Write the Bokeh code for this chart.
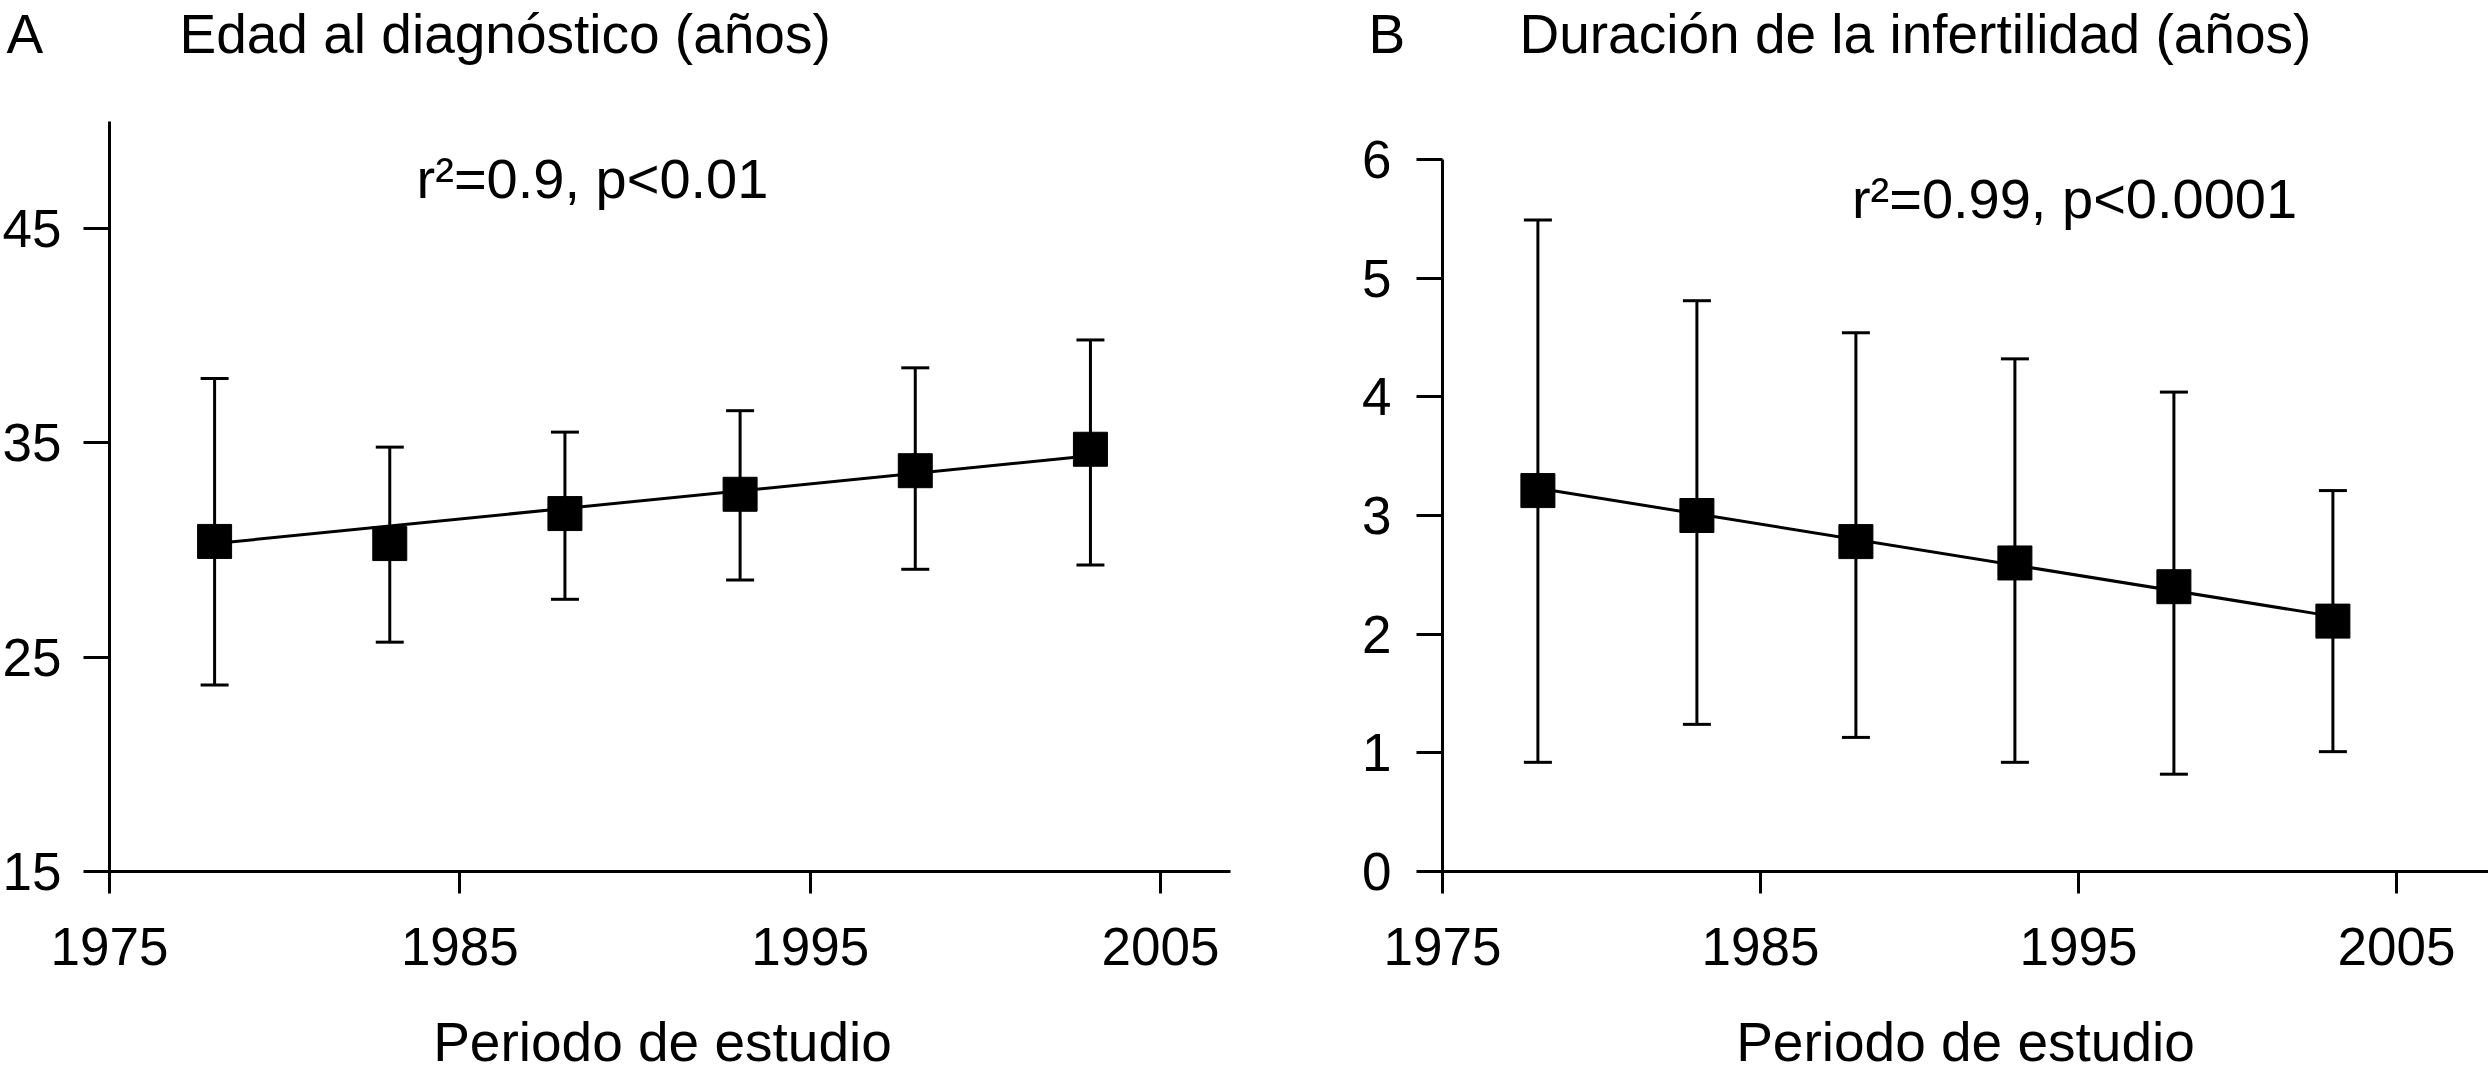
from bokeh.plotting import figure
from bokeh.layouts import row
from bokeh.models import Label, FixedTicker, Range1d, LinearAxis
from bokeh.embed import file_html
from bokeh.resources import INLINE

FONT = "Liberation Sans"

# ---------------- data ----------------
years = [1978, 1983, 1988, 1993, 1998, 2003]

edad_mean = [30.4, 30.3, 31.7, 32.6, 33.7, 34.7]
edad_high = [38.0, 34.8, 35.5, 36.5, 38.5, 39.8]
edad_low = [23.7, 25.7, 27.7, 28.6, 29.1, 29.3]

dur_mean = [3.21, 3.00, 2.78, 2.60, 2.40, 2.11]
dur_high = [5.49, 4.81, 4.54, 4.32, 4.04, 3.21]
dur_low = [0.92, 1.24, 1.13, 0.92, 0.82, 1.01]

fit_years = [1978, 2003]
edad_fit = [30.3, 34.4]
dur_fit = [3.23, 2.15]

x_ticks = [1975, 1985, 1995, 2005]
edad_ticks = [15, 25, 35, 45]
dur_ticks = [0, 1, 2, 3, 4, 5, 6]

# ---------------- layout (page pixels) ----------------
W, H = 2488, 1077
WA = 1290          # panel A figure spans page x 0..WA, panel B spans WA..W
TEXT_SHIFT = 20    # rendered text sits this much below the anchor


class Geo:
    """Linear map between page pixels and data values for one panel."""
    def __init__(self, px_a, xa, px_b, xb, py_a, ya, py_b, yb):
        self.kx = (xb - xa) / (px_b - px_a)
        self.px_a, self.xa = px_a, xa
        self.ky = (yb - ya) / (py_b - py_a)
        self.py_a, self.ya = py_a, ya

    def x(self, px):
        return self.xa + (px - self.px_a) * self.kx

    def y(self, py):
        return self.ya + (py - self.py_a) * self.ky


def add_text(p, g, text, px, py, align="left", size="55px"):
    p.add_layout(Label(x=g.x(px), y=g.y(py - TEXT_SHIFT), text=text,
                       text_font=FONT, text_font_size=size, text_color="black",
                       text_align=align, text_baseline="alphabetic"))


def make_panel(g, fig_left, fig_right, x_loc, y_loc, x_bounds, y_bounds, y_ticks, y_standoff):
    p = figure(width=fig_right - fig_left, height=H,
               x_range=Range1d(g.x(fig_left), g.x(fig_right)),
               y_range=Range1d(g.y(H), g.y(0)),
               output_backend="svg", toolbar_location=None,
               x_axis_location=None, y_axis_location=None, min_border=0,
               min_border_left=0, min_border_right=0, min_border_top=0, min_border_bottom=0)
    p.outline_line_color = None
    p.grid.visible = False
    p.background_fill_color = "white"
    p.border_fill_color = "white"

    xax = LinearAxis(fixed_location=x_loc, ticker=FixedTicker(ticks=x_ticks), bounds=x_bounds)
    yax = LinearAxis(fixed_location=y_loc, ticker=FixedTicker(ticks=y_ticks), bounds=y_bounds)
    for ax in (xax, yax):
        ax.axis_line_width = 3
        ax.axis_line_color = "black"
        ax.major_tick_line_width = 3
        ax.major_tick_line_color = "black"
        ax.major_tick_in = 0
        ax.minor_tick_line_color = None
        ax.major_label_text_font = FONT
        ax.major_label_text_font_size = "53px"
        ax.major_label_text_color = "black"
    xax.major_tick_out = 22
    xax.major_label_standoff = 34
    yax.major_tick_out = 26
    yax.major_label_standoff = y_standoff
    p.add_layout(xax, "below")
    p.add_layout(yax, "left")
    return p


def draw_series(p, means, lows, highs, fit):
    p.line(fit_years, fit, line_width=3, line_color="black")
    p.segment(years, lows, years, highs, line_width=3, line_color="black")
    p.scatter(years, highs, marker="dash", size=28, line_width=3, line_color="black")
    p.scatter(years, lows, marker="dash", size=28, line_width=3, line_color="black")
    p.scatter(years, means, marker="square", size=34, fill_color="black", line_color="black")


# ---------------- panel A ----------------
# 1975 at page x 109, 2005 at 1160; 15 at page y 871, 45 at 228
ga = Geo(109, 1975, 1160, 2005, 871, 15, 228, 45)
pa = make_panel(ga, 0, WA, 15, 1975, (1975, 2007), (15, 50), edad_ticks, 22)
draw_series(pa, edad_mean, edad_low, edad_high, edad_fit)
add_text(pa, ga, "A", 6, 53)
add_text(pa, ga, "Edad al diagnóstico (años)", 179, 53)
add_text(pa, ga, "r²=0.9, p<0.01", 592, 198, align="center", size="56px")
add_text(pa, ga, "Periodo de estudio", 662, 1061, align="center")

# ---------------- panel B ----------------
# 1975 at page x 1442, 2005 at 2396; 0 at page y 871, 6 at 159
gb = Geo(1442, 1975, 2396, 2005, 871, 0, 159, 6)
pb = make_panel(gb, WA, W, 0, 1975, (1975, gb.x(W)), (0, 6), dur_ticks, 25)
draw_series(pb, dur_mean, dur_low, dur_high, dur_fit)
add_text(pb, gb, "B", 1368, 53)
add_text(pb, gb, "Duración de la infertilidad (años)", 1519, 53)
add_text(pb, gb, "r²=0.99, p<0.0001", 2074, 218, align="center", size="56px")
add_text(pb, gb, "Periodo de estudio", 1965, 1061, align="center")

layout = row(pa, pb)
open("out.html", "w").write(file_html(layout, INLINE))
